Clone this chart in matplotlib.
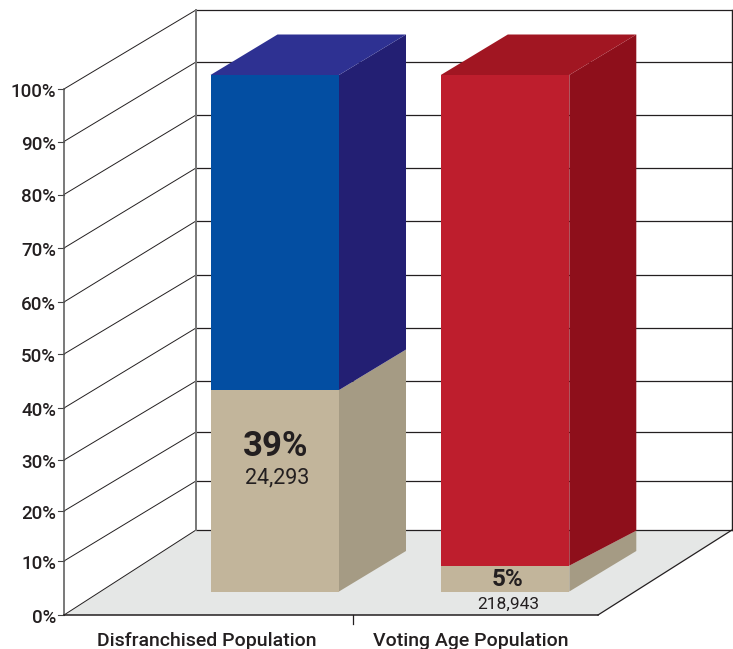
import matplotlib
matplotlib.use("Agg")
import matplotlib.pyplot as plt
import numpy as np
from matplotlib.patches import Polygon

plt.rcParams['font.family'] = ['Roboto', 'DejaVu Sans']

categories = ["Disfranchised Population", "Voting Age Population"]
shares = [39, 5]
counts = ["24,293", "218,943"]
share_labels = ["39%", "5%"]
tick_values = [0, 10, 20, 30, 40, 50, 60, 70, 80, 90, 100]
tick_labels = ["0%", "10%", "20%", "30%", "40%", "50%", "60%", "70%", "80%", "90%", "100%"]

# the picture's axis is not quite even, so pixel rows are calibrated per tick
FRONT_ROWS = [615, 561, 511, 460, 408, 354, 302, 248, 194.5, 141.5, 89]
BACK_ROWS = [530, 481, 432, 381, 328, 275, 221, 168, 115, 62, 10]
FRONT_X = (64, 598)
BACK_X = (196, 732)

BAR_LEFT = [210.5, 440.8]
BAR_WIDTH = 128.5
BAR_BASE = 591.5
BAR_HEIGHT = 516.5
SIDE_DX, SIDE_DY = 67, 40.5
# the tan band's top edge climbs less steeply on the red bar
BAND_RISE = [40.5, 35]

INK = "#231f20"
TAN = ("#c2b59b", "#a59b84")
TOPS = [("#034ea2", "#231f73", "#2e3192"), ("#be1e2d", "#8e0f1b", "#a11622")]

fig = plt.figure(figsize=(7.33, 6.49), dpi=100)
ax = fig.add_axes([0, 0, 1, 1])
ax.set_xlim(0, 733)
ax.set_ylim(649, 0)
ax.axis("off")


def front_y(pct):
    return np.interp(pct, tick_values, FRONT_ROWS)


def back_y(pct):
    return np.interp(pct, tick_values, BACK_ROWS)


def bar_y(pct):
    return BAR_BASE - BAR_HEIGHT * pct / 100


def draw_block(x0, y_low, y_high, front, side, rise_low, rise_high):
    x1 = x0 + BAR_WIDTH
    ax.add_patch(Polygon([(x0, y_low), (x1, y_low), (x1, y_high), (x0, y_high)],
                         facecolor=front, edgecolor="none", zorder=3))
    ax.add_patch(Polygon([(x1, y_low), (x1 + SIDE_DX, y_low - rise_low),
                          (x1 + SIDE_DX, y_high - rise_high), (x1, y_high)],
                         facecolor=side, edgecolor="none", zorder=3))


# floor
ax.add_patch(Polygon([(FRONT_X[0], front_y(0)), (FRONT_X[1], front_y(0)),
                      (BACK_X[1], back_y(0)), (BACK_X[0], back_y(0))],
                     facecolor="#e5e7e6", edgecolor="none", zorder=1))

# walls and gridlines
for i, t in enumerate(tick_values):
    ax.plot(BACK_X, [back_y(t), back_y(t)], color=INK, lw=0.9, zorder=2)
    ax.plot([FRONT_X[0], BACK_X[0]], [front_y(t), back_y(t)], color=INK, lw=0.7, zorder=2)
    ax.plot([58, FRONT_X[0]], [front_y(t), front_y(t)], color="#444444", lw=0.8, zorder=2)
    ax.text(56, front_y(t) + 3, tick_labels[i], ha="right", va="center",
            fontsize=13.5, fontweight="medium", color=INK)

ax.plot([FRONT_X[0], FRONT_X[0]], [front_y(0), front_y(100)], color="#555555", lw=1.1, zorder=2)
ax.plot([BACK_X[0], BACK_X[0]], [back_y(0), back_y(100)], color="#777777", lw=1.4, zorder=2)
ax.plot([BACK_X[1], BACK_X[1]], [back_y(0), back_y(100)], color=INK, lw=1, zorder=2)
ax.plot(FRONT_X, [front_y(0), front_y(0)], color=INK, lw=1.1, zorder=2)
ax.plot([FRONT_X[1], BACK_X[1]], [front_y(0), back_y(0)], color=INK, lw=0.9, zorder=2)
ax.plot([353, 353], [front_y(0), 624], color=INK, lw=0.9, zorder=2)

# bars
for i, share in enumerate(shares):
    x0 = BAR_LEFT[i]
    front, side, top = TOPS[i]
    draw_block(x0, bar_y(0), bar_y(share), TAN[0], TAN[1], SIDE_DY, BAND_RISE[i])
    draw_block(x0, bar_y(share), bar_y(100), front, side, BAND_RISE[i], SIDE_DY)
    x1 = x0 + BAR_WIDTH
    ax.add_patch(Polygon([(x0, bar_y(100)), (x1, bar_y(100)),
                          (x1 + SIDE_DX, bar_y(100) - SIDE_DY), (x0 + SIDE_DX, bar_y(100) - SIDE_DY)],
                         facecolor=top, edgecolor="none", zorder=3))

# bar labels
ax.text(276, 446, share_labels[0], ha="center", va="center", fontsize=25, fontweight="bold", color=INK, zorder=4)
ax.text(277, 478, counts[0], ha="center", va="center", fontsize=15.5, color=INK, zorder=4)
ax.text(508, 579, share_labels[1], ha="center", va="center", fontsize=17.5, fontweight="bold", color=INK, zorder=4)
ax.text(508, 604, counts[1], ha="center", va="center", fontsize=12.5, color=INK, zorder=4)

# category labels
ax.text(206.5, 641, categories[0], ha="center", va="center", fontsize=14, fontweight="medium", color=INK)
ax.text(470.5, 641, categories[1], ha="center", va="center", fontsize=14, fontweight="medium", color=INK)

fig.savefig("out.png", dpi=100)
